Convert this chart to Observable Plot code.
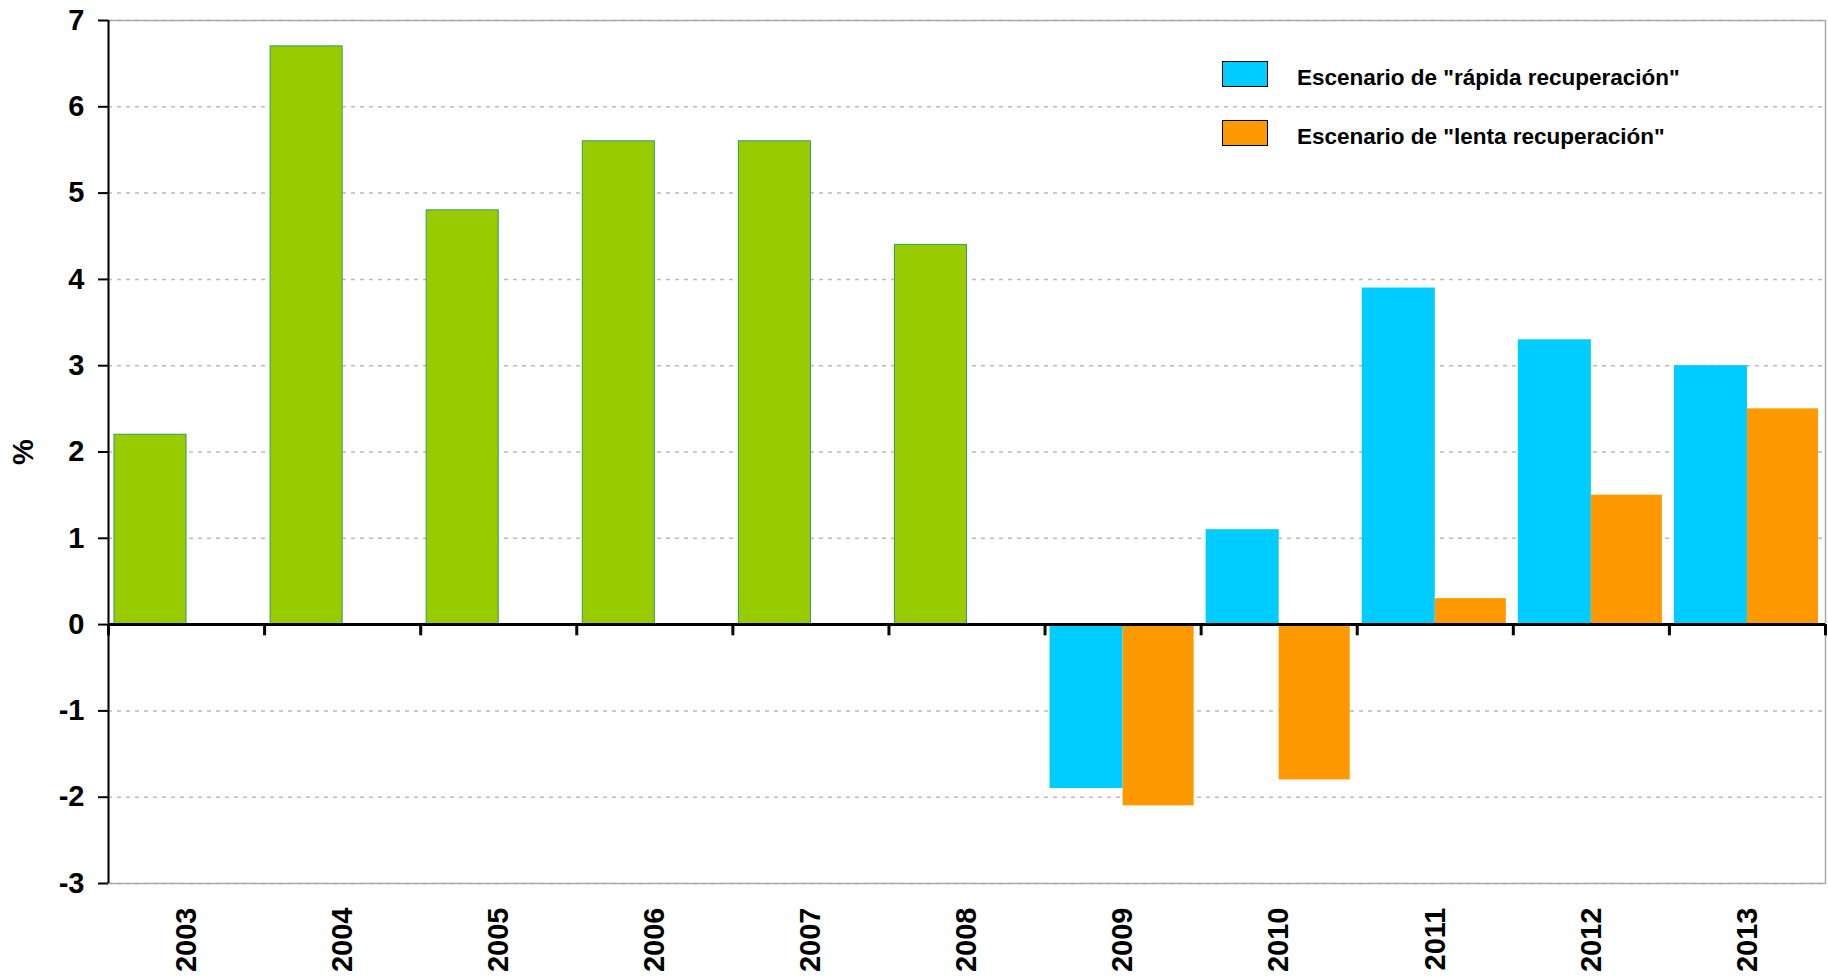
<!DOCTYPE html>
<html>
<head>
<meta charset="utf-8">
<script src="https://cdn.jsdelivr.net/npm/d3@7"></script>
<script src="https://cdn.jsdelivr.net/npm/@observablehq/plot@0.6"></script>
<style>
  html, body { margin: 0; padding: 0; background: #fff; }
  #wrap { position: relative; width: 1828px; height: 978px; font-family: "Liberation Sans", Arial, sans-serif; }
  .legend { position: absolute; left: 1222px; font-weight: bold; font-size: 22.5px; color: #000; }
  .legend .item { display: flex; align-items: center; height: 26px; margin-bottom: 33px; }
  .legend .sw { width: 44px; height: 24px; border: 1px solid #000; margin-right: 29px; flex: none; }
  .legend .lbl { position: relative; top: 4px; white-space: nowrap; }
</style>
</head>
<body>
<div id="wrap"></div>
<script>
// ---- data ----
const years = [2003, 2004, 2005, 2006, 2007, 2008, 2009, 2010, 2011, 2012, 2013];
const histYears = [2003, 2004, 2005, 2006, 2007, 2008];
const histValues = [2.2, 6.7, 4.8, 5.6, 5.6, 4.4];
const escYears = [2009, 2010, 2011, 2012, 2013];
const rapidaValues = [-1.9, 1.1, 3.9, 3.3, 3.0];
const lentaValues = [-2.1, -1.8, 0.3, 1.5, 2.5];
const yTicks = [-3, -2, -1, 0, 1, 2, 3, 4, 5, 6, 7];
const seriesNames = ['Escenario de "rápida recuperación"', 'Escenario de "lenta recuperación"'];
const seriesColors = ["#00CCFF", "#FF9900"];

const hist = histYears.map((year, i) => ({year, value: histValues[i]}));
const rapida = escYears.map((year, i) => ({year, value: rapidaValues[i]}));
const lenta = escYears.map((year, i) => ({year, value: lentaValues[i]}));
const boundaries = [years[0] - 0.5, ...years.map(y => y + 0.5)];

const font = "'Liberation Sans', Arial, sans-serif";

const chart = Plot.plot({
  width: 1828,
  height: 978,
  marginLeft: 108,
  marginRight: 3,
  marginTop: 20,
  marginBottom: 95,
  style: {fontFamily: font, background: "#fff", color: "#000"},
  x: {type: "linear", domain: [years[0] - 0.5, years[years.length - 1] + 0.5]},
  y: {domain: [-3, 7], label: "%"},
  marks: [
    Plot.ruleY(yTicks, {stroke: "#bbbbbb", strokeWidth: 1.5, strokeDasharray: "4,5"}),
    Plot.frame({stroke: "#aaaaaa", strokeWidth: 1.5}),
    Plot.rectY(hist, {x1: d => d.year - 0.5, x2: d => d.year, y1: 0, y2: "value",
      fill: "#99CC00", stroke: "#339966", strokeWidth: 1, insetLeft: 6, insetRight: 0}),
    Plot.rectY(rapida, {x1: d => d.year - 0.5, x2: d => d.year, y1: 0, y2: "value",
      fill: seriesColors[0], insetLeft: 5, insetRight: 0}),
    Plot.rectY(lenta, {x1: d => d.year, x2: d => d.year + 0.5, y1: 0, y2: "value",
      fill: seriesColors[1], insetLeft: 0, insetRight: 7}),
    Plot.ruleY([0], {stroke: "#000", strokeWidth: 3}),
    Plot.ruleX(boundaries, {x: d => d, y1: 0, y2: -0.13, stroke: "#000", strokeWidth: 3}),
    Plot.ruleX([years[0] - 0.5], {stroke: "#000", strokeWidth: 2}),
    Plot.axisY({ticks: yTicks, tickFormat: d => String(d), tickSize: 10, tickPadding: 14, fontSize: 29, fontWeight: "bold",
      stroke: "#000", strokeWidth: 2, label: "%", labelAnchor: "center", labelOffset: 96, labelArrow: "none"}),
    Plot.axisX({ticks: years, tickFormat: d => String(d), tickRotate: -90, tickSize: 0, tickPadding: 24,
      fontSize: 29, fontWeight: "bold", label: null})
  ]
});

const wrap = document.getElementById("wrap");
wrap.appendChild(chart);

const legend = document.createElement("div");
legend.className = "legend";
legend.style.top = "61px";
seriesNames.forEach((name, i) => {
  const item = document.createElement("div");
  item.className = "item";
  const sw = document.createElement("div");
  sw.className = "sw";
  sw.style.background = seriesColors[i];
  const t = document.createElement("span");
  t.className = "lbl";
  t.textContent = name;
  item.appendChild(sw);
  item.appendChild(t);
  legend.appendChild(item);
});
wrap.appendChild(legend);
</script>
</body>
</html>
